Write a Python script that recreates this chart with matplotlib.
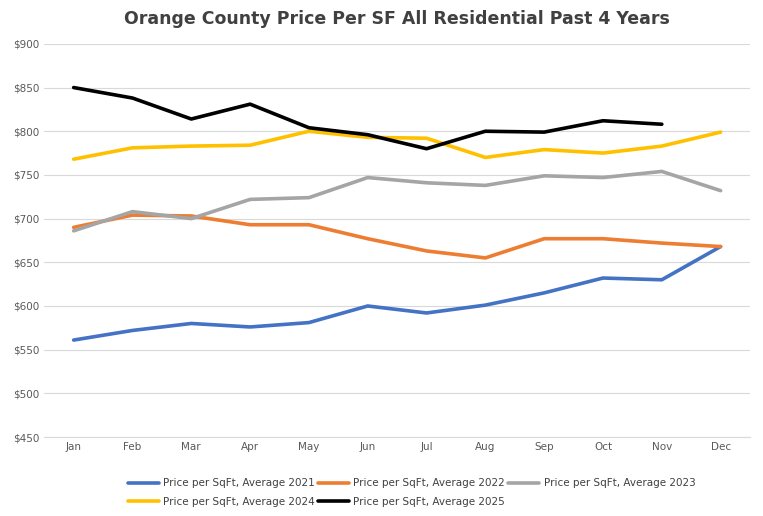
import matplotlib.pyplot as plt
from matplotlib.ticker import FuncFormatter

months = ['Jan', 'Feb', 'Mar', 'Apr', 'May', 'Jun', 'Jul', 'Aug', 'Sep', 'Oct', 'Nov', 'Dec']
avg_2021 = [561, 572, 580, 576, 581, 600, 592, 601, 615, 632, 630, 668]
avg_2022 = [690, 704, 703, 693, 693, 677, 663, 655, 677, 677, 672, 668]
avg_2023 = [686, 708, 700, 722, 724, 747, 741, 738, 749, 747, 754, 732]
avg_2024 = [768, 781, 783, 784, 800, 793, 792, 770, 779, 775, 783, 799]
avg_2025 = [850, 838, 814, 831, 804, 796, 780, 800, 799, 812, 808]

series = [
    ('Price per SqFt, Average 2021', avg_2021, '#4472c4'),
    ('Price per SqFt, Average 2022', avg_2022, '#ed7d31'),
    ('Price per SqFt, Average 2023', avg_2023, '#a5a5a5'),
    ('Price per SqFt, Average 2024', avg_2024, '#ffc000'),
    ('Price per SqFt, Average 2025', avg_2025, '#000000'),
]

fig = plt.figure(figsize=(7.63, 5.16), dpi=100)
ax = fig.add_axes([0.058, 0.153, 0.925, 0.762])

for label, vals, color in series:
    ax.plot(months[:len(vals)], vals, color=color, linewidth=2.6, label=label,
            solid_capstyle='round')

ax.set_ylim(450, 900)
ax.set_yticks(range(450, 901, 50))
ax.yaxis.set_major_formatter(FuncFormatter(lambda v, p: f'${v:.0f}'))
ax.set_xlim(-0.5, 11.5)
ax.grid(axis='y', color='#d9d9d9', linewidth=0.8)
ax.set_axisbelow(True)
for s in ['top', 'right', 'left']:
    ax.spines[s].set_visible(False)
ax.spines['bottom'].set_color('#d9d9d9')
ax.tick_params(length=0, labelsize=7.5, colors='#595959')

ax.set_title('Orange County Price Per SF All Residential Past 4 Years',
             fontsize=12.5, fontweight='bold', color='#404040', pad=14)

# reorder so the legend reads row by row: 2021 2022 2023 / 2024 2025
handles, labels = ax.get_legend_handles_labels()
order = [0, 3, 1, 4, 2]
fig.legend([handles[i] for i in order], [labels[i] for i in order],
           loc='lower left', bbox_to_anchor=(0.155, 0.0), ncol=3, frameon=False,
           fontsize=7.5, handlelength=3, columnspacing=0.3, handletextpad=0.4,
           labelspacing=0.8, labelcolor='#404040')

plt.savefig('out.png', dpi=100)
